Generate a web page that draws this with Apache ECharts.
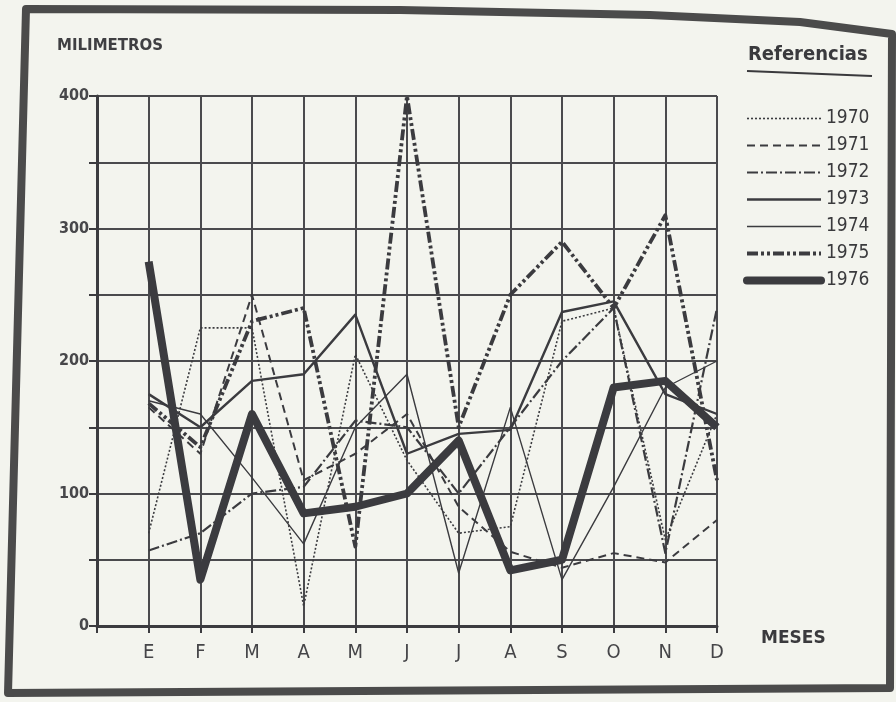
<!DOCTYPE html>
<html>
<head>
<meta charset="utf-8">
<script src="https://cdn.jsdelivr.net/npm/echarts@6/dist/echarts.min.js"></script>
<style>
html,body{margin:0;padding:0;background:#e9eae4;}
#c{width:896px;height:702px;}
</style>
</head>
<body>
<div id="c"></div>
<script>
// ---- data ----
const months = ['E','F','M','A','M','J','J','A','S','O','N','D'];
const yTicks = [0, 100, 200, 300, 400];
const years = ['1970','1971','1972','1973','1974','1975','1976'];
const v1970 = [70, 225, 225, 15, 205, 125, 70, 75, 230, 240, 65, 160];
const v1971 = [165, 130, 250, 110, 130, 160, 90, 56, 44, 55, 48, 80];
const v1972 = [57, 70, 100, 105, 155, 150, 100, 150, 200, 240, 55, 240];
const v1973 = [175, 150, 185, 190, 235, 130, 145, 148, 237, 245, 175, 160];
const v1974 = [170, 160, 112, 62, 150, 190, 40, 165, 35, 105, 180, 200];
const v1975 = [168, 135, 230, 240, 60, 400, 150, 250, 290, 240, 310, 110];
const v1976 = [275, 35, 160, 85, 90, 100, 140, 42, 50, 180, 185, 150];
const seriesValues = [v1970, v1971, v1972, v1973, v1974, v1975, v1976];

// ---- styles ----
const ink = '#3b3b3f';
const styles = [
  {width: 1.6, type: [2, 2]},
  {width: 2, type: [8, 5]},
  {width: 2.2, type: [11, 3, 2, 3]},
  {width: 2.4, type: 'solid'},
  {width: 1.4, type: 'solid'},
  {width: 3.8, type: [11, 3, 3, 3, 3, 3]},
  {width: 8, type: 'solid'}
];

const chart = echarts.init(document.getElementById('c'), null, {renderer: 'canvas'});
const font = '"DejaVu Sans Condensed", "DejaVu Sans", sans-serif';

const series = years.map((y, k) => ({
  name: y,
  type: 'line',
  symbol: 'none',
  showSymbol: false,
  z: 3 + k,
  data: seriesValues[k].map((v, i) => [i + 1, v]),
  lineStyle: {color: ink, width: styles[k].width, type: styles[k].type, cap: 'butt', join: 'round'},
  itemStyle: {color: ink}
}));

const legendData = years.map((y, k) => ({
  name: y,
  itemStyle: {opacity: 0},
  lineStyle: {color: ink, width: Math.max(styles[k].width, 1.6), type: styles[k].type, cap: k === 6 ? 'round' : 'butt'}
}));

chart.setOption({
  backgroundColor: '#f3f4ee',
  animation: false,
  textStyle: {fontFamily: font},
  grid: {left: 97, right: 179, top: 96, bottom: 76},
  xAxis: {
    type: 'value', min: 0, max: 12, interval: 1,
    axisLine: {lineStyle: {color: ink, width: 3}},
    axisTick: {show: true, length: 7, lineStyle: {color: ink, width: 2}},
    splitLine: {show: true, lineStyle: {color: '#4a4a4d', width: 2}},
    axisLabel: {
      margin: 17, color: '#454548', fontSize: 20, fontFamily: font,
      formatter: v => (v >= 1 && v <= 12) ? months[v - 1] : ''
    }
  },
  yAxis: {
    type: 'value', min: 0, max: 400, interval: 50,
    axisLine: {show: true, lineStyle: {color: ink, width: 3}},
    axisTick: {show: true, length: 8, lineStyle: {color: ink, width: 2}},
    splitLine: {show: true, lineStyle: {color: '#4a4a4d', width: 2}},
    axisLabel: {
      margin: 8, color: '#47474a', fontSize: 16, fontWeight: 'bold', fontFamily: font,
      formatter: v => yTicks.includes(v) ? String(v) : ''
    }
  },
  legend: {
    orient: 'vertical', left: 738, top: 104,
    itemWidth: 74, itemHeight: 12, itemGap: 8,
    textStyle: {color: '#3a3a3d', fontSize: 19, lineHeight: 18, fontFamily: font, padding: [0, 0, 0, 0]},
    data: legendData
  },
  graphic: [
    {type: 'text', left: 57, top: 39, style: {text: 'MILIMETROS', fill: '#3f3f42', font: 'bold 15px "DejaVu Sans", sans-serif'}},
    {type: 'text', left: 761, top: 630, style: {text: 'MESES', fill: '#3a3a3d', font: 'bold 17px "DejaVu Sans", sans-serif'}},
    {type: 'text', left: 748, top: 45, style: {text: 'Referencias', fill: '#3a3a3d', font: 'bold 20px ' + font}},
    {type: 'line', shape: {x1: 747, y1: 71, x2: 872, y2: 76}, style: {stroke: '#3a3a3d', lineWidth: 2.2}},
    {type: 'polygon', shape: {points: [[26, 9], [400, 10], [650, 15], [800, 22], [892, 34], [890, 688], [8, 693]]},
      style: {fill: 'none', stroke: '#4b4b4b', lineWidth: 8, lineJoin: 'round'}, silent: true}
  ],
  series: series
});
</script>
</body>
</html>
